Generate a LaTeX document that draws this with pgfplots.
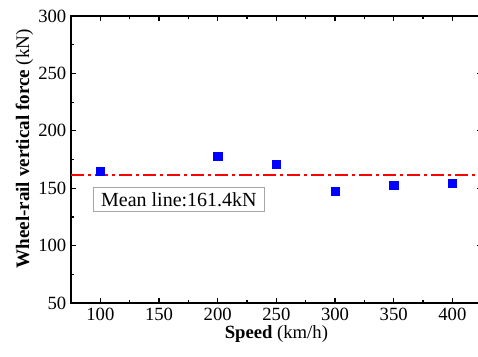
\documentclass[border=0pt]{standalone}
\usepackage{pgfplots}
\pgfplotsset{compat=1.18}
\usepackage{fontspec}
\setmainfont{Liberation Serif}
\begin{document}
\begin{tikzpicture}[x=1pt,y=1pt]
\begin{axis}[
  name=ax,
  scale only axis,
  width=308pt, height=215.25pt,
  xmin=75, xmax=425, ymin=50, ymax=300,
  xtick={100,150,...,400}, ytick={50,100,...,300},
  minor tick num=1,
  tick align=inside,
  major tick length=3.5pt, minor tick length=2pt,
  tick style={black, line width=0.9pt},
  axis line style={line width=1.1pt},
  xtick pos=both, ytick pos=both,
  xticklabel pos=left, yticklabel pos=left,
  ticklabel style={font=\fontsize{14}{16}\selectfont},
  /pgf/number format/assume math mode=true,
  xlabel={\textbf{Speed} (km/h)},
  ylabel={\textbf{Wheel-rail vertical force} (kN)},
  xlabel style={font=\fontsize{14}{16}\selectfont, yshift=3pt},
  ylabel style={font=\fontsize{14.3}{16}\selectfont, yshift=-3pt, xshift=8pt},
  clip=false,
]
\addplot[only marks, mark=square*, mark size=3.1pt, blue, mark options={fill=blue, draw=blue}]
 coordinates {(100,165.0) (200,178.0) (250,170.8) (300,147.3) (350,152.8) (400,154.5)};
\addplot[red, line width=1.5pt, dash pattern=on 10pt off 3pt on 2pt off 3pt]
 coordinates {(75,161.4) (425,161.4)};
\node[draw=gray!70, line width=0.6pt, fill=white, inner xsep=6pt, inner ysep=4pt,
  anchor=west, font=\fontsize{15}{17}\selectfont]
  at (axis cs:93.5,140.3) {Mean line:161.4kN};
\end{axis}
\pgfresetboundingbox
\path ([xshift=-53.25pt,yshift=-39.75pt]ax.south west) rectangle ([xshift=-2.8pt,yshift=12pt]ax.north east);
\end{tikzpicture}
\end{document}
